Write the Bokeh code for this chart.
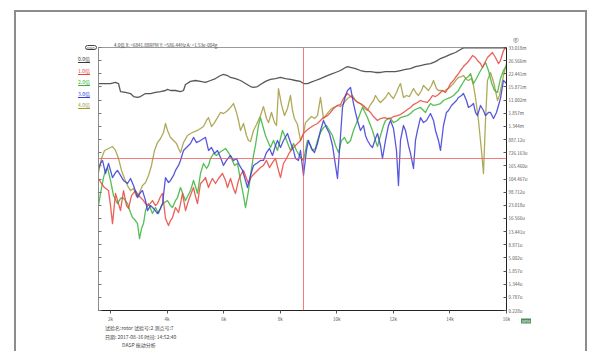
from bokeh.plotting import figure
from bokeh.models import Range1d, LinearAxis, FixedTicker, Span, Div
from bokeh.layouts import column
from bokeh.embed import file_html
from bokeh.resources import INLINE

# ---- order-tracking data: speed (RPM) and amplitude level (axis step index) ----
rpm_total = [1576, 1753, 2001, 2177, 2283, 2354, 2531, 2708, 2814, 2955, 3061, 3238, 3415, 3591, 3768,
             3945, 4015, 4122, 4298, 4475, 4581, 4652, 4829, 5005, 5182, 5359, 5536, 5712, 5889, 5995,
             6136, 6243, 6419, 6596, 6773, 6950, 7056, 7197, 7303, 7480, 7657, 7833, 8010, 8187, 8364,
             8540, 8717, 8823, 8964, 9071, 9247, 9424, 9601, 9778, 9955, 10131, 10308, 10379, 10485,
             10661, 10838, 11015, 11192, 11368, 11545, 11722, 11899, 12075, 12252, 12429, 12606, 12782,
             12959, 13136, 13313, 13489, 13666, 13843, 14020, 14197, 14373, 14479, 14727, 15080, 15434,
             15787, 16000]
lvl_total = [17.26, 17.26, 17.26, 17.34, 17.26, 16.65, 16.58, 16.50, 16.27, 16.20, 16.27, 16.50, 16.50,
             16.58, 16.65, 16.73, 16.81, 16.73, 16.73, 16.65, 16.73, 17.19, 17.42, 17.49, 17.42, 17.34,
             17.49, 17.64, 17.87, 17.95, 17.87, 17.72, 17.64, 17.49, 17.26, 17.03, 16.96, 17.03, 17.19,
             17.42, 17.57, 17.64, 17.72, 17.64, 17.57, 17.49, 17.42, 17.26, 17.26, 17.34, 17.49, 17.64,
             17.80, 17.95, 18.10, 18.25, 18.48, 18.55, 18.48, 18.40, 18.25, 18.17, 18.17, 18.10, 18.10,
             18.17, 18.17, 18.17, 18.25, 18.33, 18.40, 18.55, 18.63, 18.71, 18.78, 18.93, 19.16, 19.31,
             19.47, 19.62, 19.85, 19.97, 19.97, 19.97, 19.97, 19.97, 19.97]

rpm_1x = [1576, 1682, 1788, 1930, 2001, 2071, 2177, 2283, 2354, 2460, 2566, 2637, 2743, 2884, 2991,
          3061, 3167, 3238, 3344, 3485, 3591, 3662, 3768, 3839, 3945, 4051, 4122, 4192, 4298, 4405,
          4475, 4546, 4652, 4758, 4864, 4935, 5005, 5076, 5182, 5288, 5359, 5465, 5536, 5606, 5712,
          5818, 5960, 6066, 6136, 6243, 6349, 6419, 6525, 6596, 6702, 6808, 6879, 6950, 7020, 7126,
          7197, 7303, 7409, 7515, 7621, 7727, 7833, 7939, 8010, 8116, 8222, 8328, 8434, 8540, 8646,
          8717, 8823, 8929, 9071, 9177, 9318, 9424, 9530, 9672, 9778, 9884, 10025, 10131, 10237,
          10379, 10485, 10555, 10661, 10732, 10838, 10944, 11015, 11121, 11192, 11298, 11439, 11545,
          11686, 11792, 11899, 12005, 12146, 12252, 12358, 12499, 12606, 12712, 12853, 12959, 13065,
          13206, 13313, 13383, 13489, 13595, 13737, 13843, 13949, 14020, 14126, 14197, 14303, 14373,
          14479, 14620, 14727, 14797, 14903, 14974, 15080, 15151, 15257, 15327, 15434, 15504, 15610,
          15716, 15787, 15893, 16000]
lvl_1x = [10.04, 9.66, 9.35, 9.12, 7.98, 6.61, 8.90, 8.13, 7.60, 9.12, 7.98, 7.76, 8.74, 9.12, 8.74,
          8.59, 8.36, 8.13, 7.98, 8.36, 7.98, 8.13, 8.67, 8.90, 6.99, 6.46, 6.84, 7.07, 7.83, 7.45,
          8.13, 8.90, 7.60, 8.36, 8.97, 9.35, 8.67, 8.13, 9.66, 9.89, 10.11, 9.35, 9.73, 10.04, 9.66,
          10.04, 10.42, 9.89, 9.35, 10.04, 9.28, 8.90, 9.89, 10.27, 10.65, 10.04, 9.66, 10.04, 10.27,
          10.49, 10.65, 10.87, 11.03, 11.41, 10.87, 11.25, 11.56, 10.65, 10.11, 11.18, 11.56, 12.01,
          12.32, 12.55, 12.77, 12.93, 13.46, 13.69, 13.91, 14.07, 14.22, 14.45, 14.67, 14.82, 15.06,
          15.36, 15.59, 15.66, 16.12, 16.50, 16.27, 16.20, 15.97, 15.82, 15.74, 15.59, 15.44, 15.21,
          15.06, 14.75, 14.45, 14.60, 14.67, 14.60, 14.60, 14.75, 14.82, 14.90, 15.06, 15.28, 15.44,
          15.66, 15.82, 15.97, 15.89, 15.82, 16.12, 16.35, 16.27, 16.42, 16.73, 16.58, 16.96, 17.26,
          17.49, 17.72, 18.02, 18.25, 18.55, 18.86, 19.16, 19.39, 19.24, 19.01, 18.78, 18.48, 18.94,
          19.24, 19.47, 19.62, 19.24, 18.78, 19.01, 19.77, 20.10]

rpm_2x = [1576, 1647, 1753, 1824, 1894, 2001, 2107, 2248, 2354, 2425, 2531, 2601, 2708, 2778, 2884,
          2955, 3026, 3097, 3167, 3238, 3344, 3415, 3485, 3591, 3697, 3803, 3909, 4015, 4122, 4192,
          4298, 4369, 4475, 4581, 4652, 4758, 4829, 4935, 5005, 5076, 5182, 5288, 5394, 5465, 5536,
          5642, 5748, 5854, 5960, 6066, 6172, 6278, 6384, 6490, 6596, 6702, 6773, 6879, 6950, 7056,
          7126, 7232, 7303, 7409, 7480, 7550, 7657, 7763, 7833, 7904, 8010, 8081, 8187, 8293, 8364,
          8470, 8576, 8717, 8823, 8894, 8964, 9071, 9141, 9247, 9318, 9424, 9530, 9636, 9742, 9848,
          9955, 10061, 10167, 10272, 10379, 10485, 10591, 10661, 10732, 10838, 10909, 11015, 11085,
          11192, 11262, 11368, 11439, 11545, 11651, 11722, 11828, 11899, 12005, 12146, 12252, 12358,
          12499, 12606, 12712, 12853, 12959, 13065, 13136, 13242, 13313, 13419, 13560, 13666, 13772,
          13913, 14020, 14126, 14232, 14303, 14373, 14444, 14550, 14656, 14727, 14833, 14939, 15045,
          15151, 15257, 15363, 15469, 15575, 15681, 15787, 15893, 16000]
lvl_2x = [7.98, 8.90, 10.11, 10.65, 10.87, 9.89, 8.74, 8.13, 8.52, 8.59, 8.36, 8.13, 7.45, 7.07, 6.84,
          6.61, 5.47, 6.23, 6.61, 7.60, 8.13, 7.76, 7.37, 7.83, 7.37, 7.98, 8.21, 8.36, 7.98, 7.83,
          8.36, 8.59, 9.35, 8.74, 8.36, 8.82, 9.12, 9.89, 9.43, 8.90, 10.42, 11.18, 10.80, 11.03,
          11.56, 11.94, 11.79, 12.01, 12.17, 12.32, 12.01, 11.56, 11.03, 11.18, 9.89, 8.74, 7.83,
          9.12, 10.27, 11.79, 12.55, 14.07, 14.67, 13.84, 13.31, 12.93, 12.40, 12.93, 12.55, 12.17,
          13.08, 13.69, 13.16, 12.55, 12.17, 12.70, 12.17, 11.64, 11.41, 12.17, 12.93, 12.55, 12.17,
          12.32, 12.93, 13.54, 13.91, 14.07, 13.69, 13.31, 12.55, 12.01, 12.93, 13.16, 12.70, 12.93,
          13.69, 14.07, 14.45, 15.06, 15.44, 14.98, 14.67, 14.07, 13.69, 12.93, 12.47, 13.31, 14.07,
          14.45, 14.60, 14.60, 14.29, 14.45, 14.67, 14.75, 14.82, 14.98, 15.21, 15.36, 15.44, 15.21,
          15.06, 15.51, 15.74, 15.59, 15.66, 15.74, 15.97, 16.12, 16.20, 16.35, 16.58, 16.73, 17.03,
          17.26, 17.64, 17.79, 18.02, 17.26, 17.64, 18.10, 18.48, 18.86, 18.25, 17.34, 16.73, 16.58,
          17.64, 18.25, 18.63]

rpm_3x = [1576, 1647, 1718, 1824, 1930, 2001, 2071, 2177, 2248, 2354, 2460, 2601, 2708, 2814, 2955,
          3061, 3132, 3238, 3308, 3415, 3521, 3662, 3768, 3839, 3945, 4051, 4122, 4228, 4298, 4405,
          4475, 4581, 4687, 4829, 4935, 5041, 5182, 5288, 5359, 5465, 5571, 5677, 5783, 5889, 5995,
          6101, 6243, 6349, 6455, 6561, 6667, 6773, 6843, 6950, 7056, 7162, 7303, 7409, 7515, 7621,
          7727, 7833, 7904, 8010, 8116, 8257, 8364, 8470, 8540, 8646, 8717, 8823, 8929, 9000, 9106,
          9212, 9318, 9424, 9530, 9636, 9742, 9848, 9955, 10025, 10096, 10202, 10308, 10379, 10485,
          10591, 10661, 10732, 10838, 10944, 11015, 11085, 11192, 11262, 11368, 11439, 11545, 11616,
          11722, 11828, 11899, 12005, 12111, 12181, 12252, 12358, 12429, 12535, 12606, 12712, 12782,
          12853, 12959, 13065, 13171, 13313, 13419, 13489, 13595, 13666, 13772, 13878, 13949, 14055,
          14126, 14232, 14303, 14409, 14479, 14585, 14656, 14762, 14833, 14903, 14974, 15080, 15186,
          15257, 15363, 15434, 15540, 15646, 15716, 15787, 15893, 16000]
lvl_3x = [10.80, 11.18, 11.41, 10.42, 11.18, 10.65, 10.11, 10.49, 10.65, 10.27, 9.89, 9.66, 10.04,
          9.50, 8.59, 8.97, 9.12, 8.36, 7.60, 7.98, 7.76, 7.37, 7.76, 8.13, 10.11, 9.73, 9.89, 10.27,
          10.65, 11.03, 11.41, 12.17, 12.40, 12.70, 13.16, 12.77, 12.93, 13.08, 13.16, 12.17, 12.40,
          11.94, 12.17, 11.64, 11.03, 11.41, 11.79, 11.41, 11.56, 11.03, 10.65, 9.89, 9.35, 10.27,
          11.03, 11.18, 11.41, 11.41, 12.01, 12.32, 11.79, 12.55, 12.93, 12.40, 12.93, 13.46, 12.77,
          12.17, 11.56, 11.41, 12.17, 10.27, 12.17, 12.93, 12.32, 12.01, 12.70, 13.69, 14.45, 13.91,
          13.46, 12.55, 11.03, 10.04, 12.17, 15.44, 16.35, 16.73, 16.96, 15.74, 15.06, 14.45, 13.69,
          14.07, 13.31, 12.93, 12.55, 12.40, 13.08, 13.46, 12.55, 11.56, 12.93, 14.07, 14.45, 13.84,
          12.17, 9.50, 12.93, 14.07, 13.69, 12.55, 11.94, 10.80, 12.93, 13.69, 14.67, 14.29, 14.45,
          14.98, 14.45, 13.69, 12.93, 12.17, 14.07, 15.06, 15.21, 15.59, 15.74, 15.97, 16.20, 16.35,
          16.50, 15.97, 15.44, 15.59, 15.74, 15.06, 14.82, 15.59, 15.21, 14.82, 15.06, 15.06, 14.60,
          15.06, 15.59, 16.12, 17.49, 17.26]

rpm_4x = [1576, 1682, 1788, 1930, 2071, 2177, 2283, 2389, 2495, 2601, 2708, 2814, 2920, 3026, 3132,
          3238, 3344, 3450, 3556, 3662, 3768, 3874, 3945, 4015, 4122, 4228, 4334, 4405, 4475, 4581,
          4723, 4829, 4970, 5076, 5182, 5288, 5394, 5465, 5571, 5677, 5783, 5889, 5995, 6101, 6243,
          6349, 6455, 6525, 6596, 6702, 6808, 6879, 6950, 7056, 7162, 7303, 7409, 7515, 7586, 7692,
          7798, 7869, 7939, 8045, 8151, 8257, 8364, 8434, 8505, 8611, 8717, 8823, 8894, 9000, 9106,
          9211, 9318, 9424, 9530, 9636, 9778, 9884, 10025, 10131, 10237, 10379, 10485, 10555, 10661,
          10767, 10873, 10979, 11085, 11192, 11298, 11368, 11474, 11545, 11651, 11722, 11828, 11934,
          12005, 12111, 12181, 12252, 12358, 12464, 12570, 12641, 12712, 12818, 12888, 12994, 13065,
          13171, 13242, 13348, 13419, 13525, 13595, 13701, 13807, 13878, 13949, 14055, 14126, 14232,
          14303, 14409, 14479, 14585, 14656, 14762, 14833, 14903, 15009, 15115, 15186, 15257, 15327,
          15434, 15504, 15575, 15681, 15752, 15823, 15893, 16000]
lvl_4x = [10.49, 11.56, 12.17, 12.32, 12.47, 12.17, 11.56, 10.65, 10.04, 9.50, 9.12, 9.28, 8.67, 8.97,
          9.50, 9.73, 10.27, 11.03, 12.17, 12.77, 13.08, 13.54, 14.22, 13.69, 13.16, 12.93, 12.70,
          12.32, 12.01, 12.77, 13.31, 13.46, 13.61, 13.69, 13.84, 13.99, 14.45, 14.67, 13.99, 14.29,
          14.67, 15.06, 14.98, 15.13, 15.44, 15.74, 15.06, 14.45, 13.69, 14.22, 13.31, 12.93, 12.85,
          13.69, 14.14, 14.82, 15.51, 14.60, 14.29, 15.06, 14.29, 14.07, 16.88, 15.66, 14.82, 15.36,
          16.35, 15.21, 14.60, 14.14, 12.93, 13.46, 14.29, 14.52, 14.75, 14.60, 14.82, 16.20, 14.60,
          14.90, 15.28, 15.44, 15.59, 15.51, 15.74, 16.12, 16.27, 16.35, 15.97, 15.82, 15.66, 15.36,
          15.21, 15.66, 15.97, 16.35, 15.97, 15.82, 16.04, 16.20, 16.58, 16.27, 16.12, 16.58, 16.96,
          17.26, 16.20, 16.35, 16.27, 16.58, 16.88, 16.50, 16.35, 16.73, 17.11, 16.88, 16.73, 17.11,
          17.49, 16.88, 16.73, 16.73, 16.65, 16.81, 16.88, 17.11, 17.26, 17.57, 17.72, 17.79, 17.87,
          17.57, 17.49, 17.64, 17.11, 16.20, 14.45, 12.17, 10.42, 14.45, 17.49, 18.10, 17.64, 17.11,
          15.97, 16.35, 17.11, 17.87, 18.78]

series_names = ["0.0倍", "1.0倍", "2.0倍", "3.0倍", "4.0倍"]
series_colors = ["#3a3a3a", "#e8453c", "#36b436", "#3a3ad8", "#a19b3c"]

# right-hand amplitude scale, one label per level step (top to bottom)
amp_labels = ["33.018m", "26.566m", "22.441m", "15.871m", "11.002m", "1.857m", "1.344m", "887.12u",
              "726.163u", "165.460u", "104.467u", "98.712u", "23.018u", "16.566u", "13.441u",
              "8.871u", "5.002u", "1.857u", "1.344u", "0.787u", "0.228u"]
rpm_ticks = [2000, 4000, 6000, 8000, 10000, 12000, 14000, 16000]
rpm_tick_labels = ["2k", "4k", "6k", "8k", "10k", "12k", "14k", "16k"]

cursor_rpm = 8823
cursor_level = 11.56

header_text = "4.0倍   X: =6841.88RPM  Y: =586.44Hz  A: =1.53e-004g"
footer_lines = ["试验名:rotor 试验号:2 测点号:7", "日期: 2017-08-16   时间: 14:52:40", "DASP 振动分析"]

FONT = "Noto Sans CJK SC"
W, H = 597, 351
FRAME_L, FRAME_R, FRAME_T, FRAME_B = 98, 506, 47, 310   # page pixels of the plot frame

p = figure(width=W, height=H, x_range=Range1d(1576, 16000), y_range=Range1d(0, 20),
           y_axis_location="right", output_backend="svg", toolbar_location=None,
           min_border_left=FRAME_L, min_border_right=W - FRAME_R,
           min_border_top=FRAME_T, min_border_bottom=H - FRAME_B)
p.background_fill_color = "white"
p.border_fill_color = "white"
p.outline_line_color = "#9a9a9a"
p.outline_line_width = 1
p.xgrid.visible = False
p.ygrid.visible = False

level_ticks = list(range(21))
overrides = {20 - i: lab for i, lab in enumerate(amp_labels)}

ry = p.yaxis[0]
ry.ticker = FixedTicker(ticks=level_ticks)
ry.major_label_overrides = overrides
ry.major_tick_in = 3
ry.major_tick_out = 0
ry.minor_tick_line_color = None
ry.axis_line_color = "#222222"
ry.major_tick_line_color = "#555555"
ry.major_label_text_font = FONT
ry.major_label_text_font_size = "4.5px"
ry.major_label_text_color = "#555555"
ry.major_label_standoff = 2

ly = LinearAxis(ticker=FixedTicker(ticks=level_ticks))
ly.major_label_text_font_size = "0px"
ly.major_tick_in = 3
ly.major_tick_out = 0
ly.minor_tick_line_color = None
ly.axis_line_color = "#8a8a8a"
ly.major_tick_line_color = "#777777"
p.add_layout(ly, "left")

bx = p.xaxis[0]
bx.ticker = FixedTicker(ticks=rpm_ticks)
bx.major_label_overrides = dict(zip(rpm_ticks, rpm_tick_labels))
bx.major_tick_in = 0
bx.major_tick_out = 3
bx.minor_tick_line_color = None
bx.axis_line_color = "#222222"
bx.major_tick_line_color = "#555555"
bx.major_label_text_font = FONT
bx.major_label_text_font_size = "4.5px"
bx.major_label_text_color = "#555555"
bx.major_label_standoff = 2

# cursor cross-hair
p.add_layout(Span(location=cursor_rpm, dimension="height", line_color="#f05a5a",
                  line_alpha=0.8, line_width=1))
p.add_layout(Span(location=cursor_level, dimension="width", line_color="#f05a5a",
                  line_alpha=0.8, line_width=1))

# order curves
curves = [(rpm_4x, lvl_4x, 4), (rpm_2x, lvl_2x, 2), (rpm_1x, lvl_1x, 1),
          (rpm_3x, lvl_3x, 3), (rpm_total, lvl_total, 0)]
for xs, ys, k in curves:
    p.line(xs, ys, line_color=series_colors[k], line_width=1.3, line_alpha=0.85,
           line_join="round")


# ---- page furniture around the chart (legend column, header, footer, frame) ----
def txt(left, cy, text, color="#444444", size=5, extra=""):
    return ('<span style="position:absolute;left:%spx;top:%spx;transform:translateY(-50%%);'
            'font-size:%spx;line-height:%spx;color:%s;white-space:nowrap;%s">%s</span>'
            % (left, cy, size, size + 1, color, extra, text))


parts = ['<div style="position:absolute;left:9px;top:5px;width:573px;height:360px;'
         'border:2px solid #8c8c8c;"></div>']
for i, (name, col) in enumerate(zip(series_names, series_colors)):
    parts.append(txt(73, 54 + i * 11.5, name, color=col, size=5,
                     extra="text-decoration:underline;"))
parts.append('<span style="position:absolute;left:80px;top:40px;width:12px;height:5px;'
             'border:1px solid #444;border-radius:3px;font-size:4px;line-height:5px;'
             'text-align:center;color:#333;">ENG</span>')
parts.append(txt(109, 41, header_text, size=4.5))
parts.append(txt(508, 35, "(g)", size=4.5))
parts.append(txt(516, 316, "RPM", color="#eaf6ea", size=4,
                 extra="background:#4d8a5c;padding:0 1px;"))
parts.append(txt(100, 323, footer_lines[0], size=5))
parts.append(txt(100, 332, footer_lines[1], size=5))
parts.append(txt(117, 340, footer_lines[2], size=5))

overlay = Div(text='<div style="position:relative;width:%dpx;height:%dpx;overflow:hidden;'
                   'font-family:\'Noto Sans CJK SC\',sans-serif;">%s</div>' % (W, H, "".join(parts)),
              width=W, height=H,
              styles={"position": "absolute", "left": "0px", "top": "0px",
                      "pointer-events": "none", "z-index": "2"})

page = column(p, overlay)
open("out.html", "w").write(file_html(page, INLINE))
